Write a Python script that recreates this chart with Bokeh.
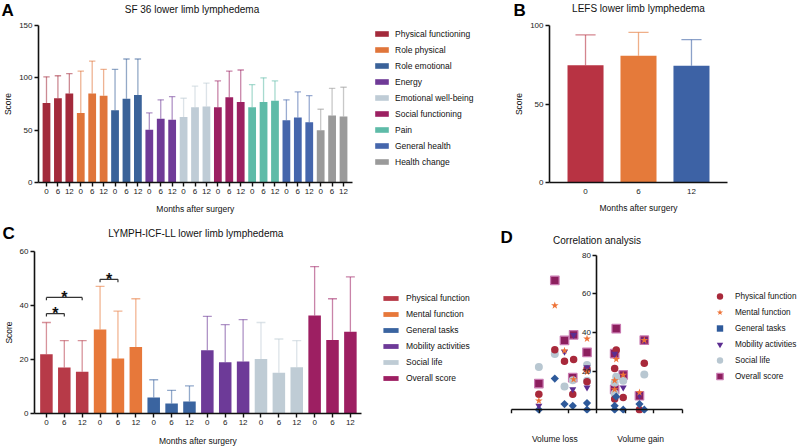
from bokeh.plotting import figure
from bokeh.models import ColumnDataSource, Range1d, FixedTicker, Legend, LegendItem
from bokeh.layouts import column, row
from bokeh.embed import file_html
from bokeh.resources import INLINE
from bokeh.core.properties import value

FONT = "Liberation Sans"

# ---------------- data ----------------
months = ["0", "6", "12"]

sf36_domains = ["Physical functioning", "Role physical", "Role emotional", "Energy",
                "Emotional well-being", "Social functioning", "Pain", "General health",
                "Health change"]
sf36_colors = ["#A32A3B", "#E0753A", "#3A6299", "#6F3A97", "#BFCCD6",
               "#9C2062", "#5EBBA8", "#4566AC", "#9A9A9A"]
sf36_mean = [[76, 80.5, 85], [66.5, 85, 83], [69, 80, 83.5], [50.5, 61, 60],
             [62.5, 72, 72.5], [72, 81.5, 77], [72, 77, 78], [59.5, 62, 57.5],
             [50, 64, 63]]
sf36_sd = [[25, 21.5, 19], [40, 31, 25], [39, 38, 34.5], [16, 18, 22],
           [18, 20, 22.5], [25, 25, 30.5], [21.5, 23, 19], [19.5, 24.5, 25.5],
           [20, 26, 28]]

lefs_mean = [74.7, 80.7, 74.3]
lefs_sd = [19.3, 14.9, 16.7]
lefs_colors = ["#B83343", "#E57A3A", "#3D62A5"]

icf_domains = ["Physical function", "Mental function", "General tasks",
               "Mobility activities", "Social life", "Overall score"]
icf_colors = ["#B73A48", "#E7783A", "#3A64A0", "#6D3A98", "#BFCCD5", "#9D1F62"]
icf_mean = [[21.9, 17, 15.5], [31.1, 20.4, 24.6], [5.9, 3.7, 4.4],
            [23.4, 19, 19.3], [20.2, 15.1, 17.1], [36.3, 27.2, 30.3]]
icf_sd = [[11.8, 10, 11.5], [16, 17.5, 17.9], [6.6, 4.9, 5.8],
          [12.6, 13.9, 15.5], [13.5, 12.5, 9.9], [18.1, 15.3, 20.3]]

# significance brackets (bar index from / to, level)
sig_from = [0, 0, 3]
sig_to = [1, 2, 4]
sig_level = [37, 43, 49.7]
sig_text = ["*", "*", "*"]

# correlation analysis (volume change vs score change)
corr_pf_x = [-20.4, -14.8, -11.4, -8.2, -8.5, -3.5, -3.5, 6.2, 6.75, 6.2, 9.2, 14.9, 16.6]
corr_pf_y = [8, 31.1, 25.1, 26, 8, 20.9, 14.5, 21.3, 30.9, 5.5, 6.3, 0, 24]
corr_mf_x = [-20.4, -14.8, -11.4, -8.2, -3.5, -3.5, 6.2, 6.2, 6.75, 9.2, 14.9, 16.6]
corr_mf_y = [4.6, 54, 30.6, 15.7, 36.8, 19.5, 15.1, 10.4, 26.1, 18, 8.9, 36]
corr_gt_x = [-20.4, -14.8, -11.4, -8.5, -3.5, -3.5, 6.2, 6.2, 6.75, 9.2, 14.9, 16.6]
corr_gt_y = [0, 16.1, 2.9, 2, 3.4, 0, 2, 0, 6.7, 0, 2.9, 0]
corr_ma_x = [-20.4, -11.4, -8.2, -8.5, -3.5, -3.5, 6.2, 9.2, 14.9, 16.6]
corr_ma_y = [2, 30, 38.7, 10.6, 22, 11.5, 29, 11.5, 7.5, 36]
corr_sl_x = [-20.4, -14.8, -11.4, -8.5, -3.5, -3.5, 6.2, 6.2, 6.75, 9.2, 16.6]
corr_sl_y = [22.1, 28.9, 12, 15.2, 23.1, 15, 14, 8.4, 17, 15, 18.2]
corr_os_x = [-20.4, -14.8, -11.4, -8.2, -8.5, -3.5, 6.2, 6.2, 6.75, 9.2, 14.9, 16.6]
corr_os_y = [13.5, 67, 35.9, 38.8, 16.6, 29.7, 29, 10.5, 42, 18, 7.2, 36]
corr_x_ticks = [-30, -20, -10, 0, 10, 20, 30]
corr_y_ticks = [20, 40, 60, 80]
volume_labels = ["Volume loss", "Volume gain"]
volume_label_x = [-14.8, 15.3]

panel_letters = ["A", "B", "C", "D"]
titles = ["SF 36 lower limb lymphedema", "LEFS lower limb lymphedema",
          "LYMPH-ICF-LL lower limb lymphedema", "Correlation analysis"]
x_title = "Months after surgery"
y_title = "Score"


# ---------------- helpers ----------------
def style(p):
    p.outline_line_color = None
    p.xgrid.visible = False
    p.ygrid.visible = False
    for ax in p.axis:
        ax.axis_line_color = "#111111"
        ax.axis_line_width = 1.6
        ax.major_tick_line_color = "#111111"
        ax.major_tick_line_width = 1.4
        ax.major_tick_out = 4
        ax.major_tick_in = 0
        ax.minor_tick_line_color = None
        ax.major_label_text_font = FONT
        ax.major_label_text_font_size = "8px"
        ax.major_label_text_color = "#222222"
        ax.major_label_standoff = 2
        ax.axis_label_text_font = FONT
        ax.axis_label_text_font_size = "8.5px"
        ax.axis_label_text_font_style = "normal"
        ax.axis_label_text_color = "#111111"
        ax.axis_label_standoff = 3


def strip(w, h, x_range=None, left=0, right=0):
    p = figure(width=w, height=h, x_axis_type=None, y_axis_type=None,
               output_backend="svg", toolbar_location=None,
               min_border_left=left, min_border_right=right,
               min_border_top=0, min_border_bottom=0,
               x_range=x_range if x_range is not None else Range1d(0, w),
               y_range=Range1d(0, h))
    p.outline_line_color = None
    return p


def header(w, h, letters, lxs, lys, heads, txs, tys):
    p = strip(w, h)
    p.text(x=lxs, y=lys, text=letters, text_font=value(FONT), text_font_size="17px",
           text_font_style="bold", text_baseline="middle", text_align="left",
           text_color="#000000")
    p.text(x=txs, y=tys, text=heads, text_font=value(FONT), text_font_size="10px",
           text_baseline="middle", text_align="center", text_color="#111111")
    return p


def footer_text(p, xs, y, texts):
    p.text(x=xs, y=[y] * len(xs), text=texts, text_font=value(FONT),
           text_font_size="8.5px", text_baseline="middle", text_align="center",
           text_color="#111111")


def grouped_bars(p, means, sds, colors, names, bar_w, cap_half, alpha):
    items = []
    n = len(months)
    for g, (m3, s3, col, name) in enumerate(zip(means, sds, colors, names)):
        xs = [g * n + k for k in range(n)]
        up = [m + s for m, s in zip(m3, s3)]
        src = ColumnDataSource(dict(x=xs, top=m3, up=up,
                                    cx0=[x - cap_half for x in xs],
                                    cx1=[x + cap_half for x in xs]))
        r = p.vbar(x="x", top="top", width=bar_w, source=src,
                   fill_color=col, line_color=None)
        p.segment(x0="x", y0="top", x1="x", y1="up", source=src,
                  line_color=col, line_alpha=alpha, line_width=1.3)
        p.segment(x0="cx0", y0="up", x1="cx1", y1="up", source=src,
                  line_color=col, line_alpha=alpha, line_width=1.3)
        items.append(LegendItem(label=name, renderers=[r]))
    return items


def make_legend(items, loc, gw, gh, standoff, spacing, lh, fs="8.5px"):
    return Legend(items=items, location=loc, border_line_color=None,
                  background_fill_alpha=0, padding=0, margin=0,
                  spacing=spacing, glyph_width=gw, glyph_height=gh,
                  label_height=lh, label_standoff=standoff,
                  label_text_font=FONT, label_text_font_size=fs,
                  label_text_color="#111111")


# ---------------- panel A ----------------
nA = len(sf36_domains) * len(months)
xA0, xA1 = -0.7, nA - 1 + 0.75
wA, leftA, rightA = 500, 33, 2
pxA = 317 / (xA1 - xA0)
pA = figure(width=wA, height=178, x_range=Range1d(xA0, xA0 + (wA - leftA - rightA) / pxA),
            y_range=Range1d(0, 150), output_backend="svg", toolbar_location=None,
            min_border_left=leftA, min_border_right=rightA, min_border_top=5,
            min_border_bottom=16)
itemsA = grouped_bars(pA, sf36_mean, sf36_sd, sf36_colors, sf36_domains, 0.68, 0.28, 0.55)
style(pA)
pA.xaxis.bounds = (xA0, xA1)
pA.xaxis.ticker = FixedTicker(ticks=list(range(nA)))
pA.xaxis.major_label_overrides = {i: months[i % len(months)] for i in range(nA)}
pA.yaxis.ticker = FixedTicker(ticks=[0, 50, 100, 150])
pA.yaxis.axis_label = y_title
pA.add_layout(make_legend(itemsA, (335, 14), 17, 7, 5, 3, 13))
fA = strip(wA, 22, x_range=pA.x_range, left=leftA, right=rightA)
footer_text(fA, [(xA0 + xA1) / 2], 12, [x_title])

# ---------------- panel B ----------------
wB, leftB, rightB = 300, 49, 73
pB = figure(width=wB, height=200, x_range=Range1d(-0.68, 2.68),
            y_range=Range1d(0, 100), output_backend="svg", toolbar_location=None,
            min_border_left=leftB, min_border_right=rightB, min_border_top=5,
            min_border_bottom=38)
xsB = list(range(len(months)))
upB = [m + s for m, s in zip(lefs_mean, lefs_sd)]
srcB = ColumnDataSource(dict(x=xsB, top=lefs_mean, up=upB, color=lefs_colors,
                             cx0=[x - 0.19 for x in xsB], cx1=[x + 0.19 for x in xsB]))
pB.vbar(x="x", top="top", width=0.68, source=srcB, fill_color="color", line_color=None)
pB.segment(x0="x", y0="top", x1="x", y1="up", source=srcB, line_color="color",
           line_alpha=0.6, line_width=1.3)
pB.segment(x0="cx0", y0="up", x1="cx1", y1="up", source=srcB, line_color="color",
           line_alpha=0.6, line_width=1.3)
style(pB)
pB.xaxis.ticker = FixedTicker(ticks=xsB)
pB.xaxis.major_label_overrides = {i: months[i] for i in xsB}
pB.xaxis.major_tick_line_color = None
pB.xaxis.axis_label_standoff = 6
pB.yaxis.ticker = FixedTicker(ticks=[0, 50, 100])
pB.xaxis.axis_label = x_title
pB.yaxis.axis_label = y_title

# ---------------- panel C ----------------
nC = len(icf_domains) * len(months)
xC0, xC1 = -0.667, nC - 1 + 0.61
wC, leftC, rightC = 480, 31, 2
pxC = 329 / (xC1 - xC0)
pC = figure(width=wC, height=184, x_range=Range1d(xC0, xC0 + (wC - leftC - rightC) / pxC),
            y_range=Range1d(0, 60), output_backend="svg", toolbar_location=None,
            min_border_left=leftC, min_border_right=rightC, min_border_top=4,
            min_border_bottom=18)
itemsC = grouped_bars(pC, icf_mean, icf_sd, icf_colors, icf_domains, 0.7, 0.25, 0.55)
srcS = ColumnDataSource(dict(x0=sig_from, x1=sig_to, y=sig_level,
                             yb=[v - 1.1 for v in sig_level],
                             xm=[(a + b) / 2 for a, b in zip(sig_from, sig_to)],
                             t=sig_text))
pC.segment(x0="x0", y0="y", x1="x1", y1="y", source=srcS, line_color="#333333", line_width=1.2)
pC.segment(x0="x0", y0="y", x1="x0", y1="yb", source=srcS, line_color="#333333", line_width=1.2)
pC.segment(x0="x1", y0="y", x1="x1", y1="yb", source=srcS, line_color="#333333", line_width=1.2)
pC.text(x="xm", y="y", text="t", source=srcS, text_font=value(FONT),
        text_font_size="16px", text_font_style="bold", text_align="center",
        text_baseline="alphabetic", text_color="#111111")
style(pC)
pC.xaxis.bounds = (xC0, xC1)
pC.xaxis.ticker = FixedTicker(ticks=list(range(nC)))
pC.xaxis.major_label_overrides = {i: months[i % len(months)] for i in range(nC)}
pC.yaxis.ticker = FixedTicker(ticks=[0, 20, 40, 60])
pC.yaxis.axis_label = y_title
pC.add_layout(make_legend(itemsC, (347, 29), 19, 6, 6, 3, 13))
fC = strip(wC, 16, x_range=pC.x_range, left=leftC, right=rightC)
footer_text(fC, [(xC0 + xC1) / 2], 7, [x_title])

# ---------------- panel D ----------------
wD, leftD, rightD = 320, 28, 2
pxD = 2.85
xD0 = -31.05
pD = figure(width=wD, height=184, x_range=Range1d(xD0, xD0 + (wD - leftD - rightD) / pxD),
            y_range=Range1d(-2, 82), output_backend="svg", toolbar_location=None,
            min_border_left=leftD, min_border_right=rightD, min_border_top=4,
            min_border_bottom=18)
r_os = pD.scatter(corr_os_x, corr_os_y, marker="square", size=8.5, fill_color="#8C1F5E",
                  line_color="#C878B0", line_width=1.2)
r_sl = pD.scatter(corr_sl_x, corr_sl_y, marker="circle", size=8, fill_color="#B8C7D1",
                  line_color=None)
r_pf = pD.scatter(corr_pf_x, corr_pf_y, marker="circle", size=7.5, fill_color="#A8293B",
                  line_color=None)
r_gt = pD.scatter(corr_gt_x, corr_gt_y, marker="square", angle=0.785, size=5.8,
                  fill_color="#2E5A9B", line_color=None)
r_ma = pD.scatter(corr_ma_x, corr_ma_y, marker="inverted_triangle", size=7,
                  fill_color="#5C2D91", line_color=None)
r_mf = pD.scatter(corr_mf_x, corr_mf_y, marker="star", size=8, fill_color="#EE7236",
                  line_color=None)
style(pD)
pD.xaxis.fixed_location = 0
pD.yaxis.fixed_location = 0
pD.xaxis.bounds = (corr_x_ticks[0], corr_x_ticks[-1])
pD.yaxis.bounds = (0, corr_y_ticks[-1])
pD.xaxis.ticker = FixedTicker(ticks=corr_x_ticks)
pD.yaxis.ticker = FixedTicker(ticks=corr_y_ticks)
itemsD = [LegendItem(label=n, renderers=[r]) for n, r in
          zip(icf_domains, [r_pf, r_mf, r_gt, r_ma, r_sl, r_os])]
pD.add_layout(make_legend(itemsD, (202, 29), 19, 16, 6, 0, 16, fs="8.2px"))
fD = strip(wD, 16, x_range=pD.x_range, left=leftD, right=rightD)
footer_text(fD, volume_label_x, 9, volume_labels)

# ---------------- headers (panel letters and titles) ----------------
H1 = header(wA + wB, 20, panel_letters[:2], [1, wA + 13], [10, 10], titles[:2],
            [leftA + 317 / 2, wA + leftB + (wB - leftB - rightB) / 2], [11.5, 12])
H2 = header(wC + wD, 27, panel_letters[2:], [2, wC + 20], [14, 10], titles[2:],
            [leftC + 329 / 2, wC + leftD + (0 - xD0) * pxD], [14, 7])

layout = column(H1, row(column(pA, fA), pB), H2, row(column(pC, fC), column(pD, fD)))
open("out.html", "w").write(file_html(layout, INLINE))
